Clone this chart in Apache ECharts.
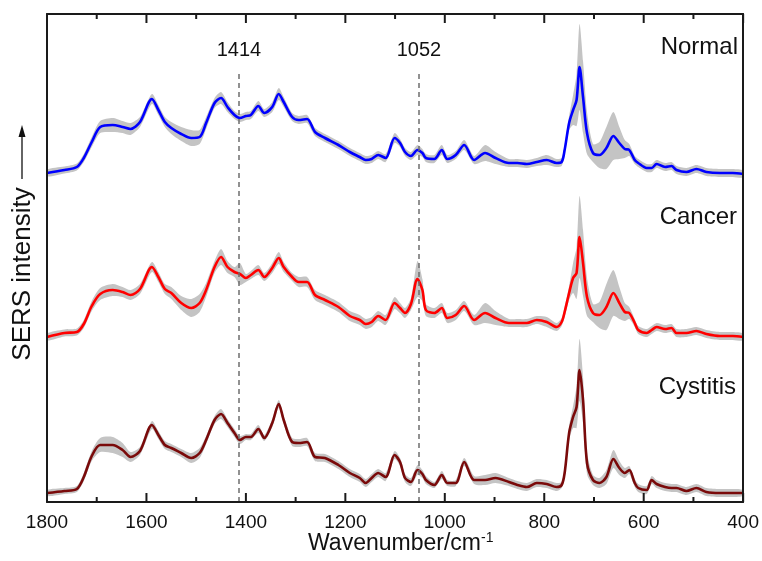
<!DOCTYPE html>
<html><head><meta charset="utf-8">
<script src="https://cdn.jsdelivr.net/npm/echarts@6/dist/echarts.min.js"></script>
<style>html,body{margin:0;padding:0;background:#fff}#c{width:762px;height:561px}</style>
</head><body><div id="c"></div>
<script>
// Wavenumber grid (cm^-1)
const wavenumbers = [1800,1765,1740,1726,1710,1693,1668,1648,1632,1613,
  1589,1576,1563,1550,1530,1510,1493,1480,1463,1450,
  1437,1423,1412,1400,1390,1375,1363,1347,1334,1324,
  1307,1294,1277,1261,1241,1214,1191,1171,1159,1147,
  1134,1119,1101,1090,1080,1068,1055,1045,1038,1021,
  1006,995,978,961,941,919,898,871,854,835,
  815,795,775,765,759,750,742,735,729,722,
  714,702,689,675,661,649,638,629,618,611,
  594,584,574,557,544,534,514,494,474,447,
  421,400];
// Offset mean spectra (a.u.) and standard deviations
const normalMean = [329,332,335,344,360,375,377,375,373,380,
  403,392,380,374,368,364,365,379,399,404,
  395,387,384,386,387,396,389,395,408,400,
  385,382,383,370,364,357,350,345,342,343,
  347,344,364,359,350,346,352,349,344,343,
  352,343,347,357,342,349,344,339,339,338,
  340,342,339,340,352,379,392,402,435,405,
  369,349,347,354,366,359,353,352,342,339,
  334,334,338,335,336,332,330,333,330,329,
  329,328];
const normalSd = [3.5,3.5,3.5,4,5,6,7,6,6,5,
  5,5,5,6,7,8,7,6,5,6,
  5,4,4,4,4,5,4,5,6,5,
  4,4,4,4,4,4,4,4,4,4,
  4,4,5,4,4,4,5,4,4,4,
  5,4,4,5,4,8,6,4,4,4,
  4,5,4,4,5,7,15,26,43,36,
  21,9,13,21,24,16,9,6,4,4,
  4,4,4,4,4,4,4,4,4,4,
  4,3.5];
const cancerMean = [165,169,170,178,196,208,212,210,207,213,
  235,225,213,209,199,194,199,212,235,245,
  235,230,228,224,227,232,225,234,244,235,
  225,220,220,207,202,195,186,182,178,180,
  186,182,199,194,189,198,223,212,192,189,
  194,184,187,196,182,189,184,179,179,179,
  182,180,175,180,190,209,224,229,265,239,
  205,189,187,195,209,199,190,189,179,172,
  169,172,175,173,174,169,169,171,168,166,
  166,165];
const cancerSd = [3.5,3.5,3.5,4,5,6,6,5,5,5,
  5,5,5,6,7,9,9,7,6,8,
  6,5,11,4,4,5,4,5,6,5,
  4,5,5,5,5,5,5,5,5,5,
  5,5,6,5,5,6,18,11,6,5,
  5,5,5,5,5,10,7,4,4,4,
  4,5,4,4,5,7,15,26,41,33,
  19,9,13,23,23,16,9,6,4,4,
  4,4,4,4,4,4,4,4,4,4,
  4,3.5];
const cystitisMean = [9,11,13,25,46,57,57,52,45,51,
  77,67,57,54,49,44,49,62,82,88,
  79,69,62,65,65,73,64,79,98,82,
  60,59,60,45,44,37,29,24,19,24,
  29,25,47,40,24,20,32,28,22,17,
  27,19,19,40,22,22,24,20,17,15,
  19,18,15,17,29,69,85,95,132,102,
  39,22,19,25,43,34,29,32,19,14,
  12,22,18,15,14,14,11,14,10,9,
  9,9];
const cystitisSd = [3,3,3,4,5,7,8,7,5,4,
  4,4,4,4,4,5,5,4,4,5,
  4,4,4,3,3,4,3,4,4,4,
  4,4,4,4,4,4,4,4,4,4,
  4,4,4,4,4,4,5,4,4,3,
  4,3,3,4,4,5,5,4,4,4,
  4,4,4,3,5,7,11,21,31,23,
  11,5,5,7,9,7,5,4,4,4,
  4,4,4,4,4,4,4,4,4,4,
  4,3];
const groupNames = ['Normal','Cancer','Cystitis'];
const markedPeaks = [1414, 1052];
const xTicks = [400,600,800,1000,1200,1400,1600,1800];
const xMinorTicks = [500,700,900,1100,1300,1500,1700];

const FONT = '"Liberation Sans", Arial, Helvetica, sans-serif';
const Y_MAX = 488;
const frameColor = '#1a1a1a';
const chart = echarts.init(document.getElementById('c'), null, {renderer:'canvas'});

function pairs(mean){ return wavenumbers.map((w,i)=>[w, mean[i]]); }
function bandSeries(mean, sd){
  return {
    type:'custom', silent:true, z:1, clip:true,
    data:[[1100,200]],
    renderItem:function(params, api){
      const pts=[];
      for(let i=0;i<wavenumbers.length;i++) pts.push(api.coord([wavenumbers[i], mean[i]+sd[i]]));
      for(let i=wavenumbers.length-1;i>=0;i--) pts.push(api.coord([wavenumbers[i], mean[i]-sd[i]]));
      return {type:'polygon', shape:{points:pts, smooth:0.25}, style:{fill:'#c4c4c4'}};
    }
  };
}
function lineSeries(name, mean, color, extra){
  return Object.assign({
    name:name, type:'line', data:pairs(mean), smooth:0.3, symbol:'none', showSymbol:false,
    lineStyle:{color:color, width:2.6}, itemStyle:{color:color}, z:3, animation:false
  }, extra||{});
}
// inward tick marks on bottom and top frame, placed through the x scale
const tickSeries = {
  type:'custom', silent:true, z:6, clip:false,
  data:[[1100,200]],
  renderItem:function(params, api){
    const children=[];
    function add(list, len){
      list.forEach(t=>{
        const b = api.coord([t,0]), tp = api.coord([t,Y_MAX]);
        children.push({type:'line', shape:{x1:b[0], y1:b[1], x2:b[0], y2:b[1]-len}, style:{stroke:frameColor, lineWidth:2}});
        children.push({type:'line', shape:{x1:tp[0], y1:tp[1], x2:tp[0], y2:tp[1]+len}, style:{stroke:frameColor, lineWidth:2}});
      });
    }
    add(xTicks, 9); add(xMinorTicks, 5);
    return {type:'group', children:children};
  }
};

const axisCommon = {
  type:'value', min:400, max:1800, interval:200, inverse:true, z:5,
  axisLine:{show:true, onZero:false, lineStyle:{width:2, color:frameColor}},
  axisTick:{show:false}, minorTick:{show:false},
  splitLine:{show:false}, minorSplitLine:{show:false}
};
const yCommon = {
  type:'value', min:0, max:Y_MAX, z:5,
  axisLine:{show:true, onZero:false, lineStyle:{width:2, color:frameColor}},
  axisTick:{show:false}, axisLabel:{show:false}, splitLine:{show:false}
};

chart.setOption({
  animation:false,
  backgroundColor:'#fff',
  grid:{left:47, right:17, top:14, bottom:59, show:false},
  xAxis:[
    Object.assign({}, axisCommon, {position:'bottom',
      axisLabel:{show:true, fontSize:19, color:'#111', margin:11, fontFamily:FONT,
        formatter:function(v){ return xTicks.indexOf(v)>=0 ? String(v) : ''; }}}),
    Object.assign({}, axisCommon, {position:'top', axisLabel:{show:false}})
  ],
  yAxis:[
    Object.assign({}, yCommon, {position:'left'}),
    Object.assign({}, yCommon, {position:'right'})
  ],
  series:[
    bandSeries(normalMean, normalSd),
    bandSeries(cancerMean, cancerSd),
    bandSeries(cystitisMean, cystitisSd),
    lineSeries(groupNames[0], normalMean, '#0000ff', {
      markLine:{
        silent:true, symbol:['none','none'], animation:false,
        lineStyle:{type:[5,4], color:'#6e6e6e', width:1.5, opacity:1},
        label:{show:true, position:'end', distance:12, formatter:'{b}', fontSize:20, color:'#111', fontFamily:FONT},
        data: markedPeaks.map(p=>[{name:String(p), coord:[p,0]},{coord:[p,430]}])
      }
    }),
    lineSeries(groupNames[1], cancerMean, '#ff0000'),
    lineSeries(groupNames[2], cystitisMean, '#7a0a0a'),
    tickSeries
  ],
  graphic:[
    {type:'text', x:23, y:274, rotation:Math.PI/2, silent:true,
      style:{text:'SERS intensity', font:'26px '+FONT, fill:'#111', align:'center', verticalAlign:'middle'}},
    {type:'line', silent:true, shape:{x1:22, y1:179, x2:22, y2:134}, style:{stroke:'#111', lineWidth:1.3}},
    {type:'polygon', silent:true, shape:{points:[[22,125],[18.5,137],[25.5,137]]}, style:{fill:'#111'}},
    {type:'text', x:738, y:47, silent:true, style:{text:groupNames[0], font:'24px '+FONT, fill:'#111', align:'right', verticalAlign:'middle'}},
    {type:'text', x:737, y:217, silent:true, style:{text:groupNames[1], font:'24px '+FONT, fill:'#111', align:'right', verticalAlign:'middle'}},
    {type:'text', x:736, y:387, silent:true, style:{text:groupNames[2], font:'24px '+FONT, fill:'#111', align:'right', verticalAlign:'middle'}},
    {type:'text', x:308, y:544, silent:true, style:{
      text:'{a|Wavenumber/cm}{b|-1}', fill:'#111', align:'left', verticalAlign:'middle',
      rich:{a:{fontSize:23, fontFamily:FONT, fill:'#111', lineHeight:26}, b:{fontSize:14, fontFamily:FONT, fill:'#111', verticalAlign:'top', lineHeight:14}}
    }}
  ]
});
</script></body></html>
